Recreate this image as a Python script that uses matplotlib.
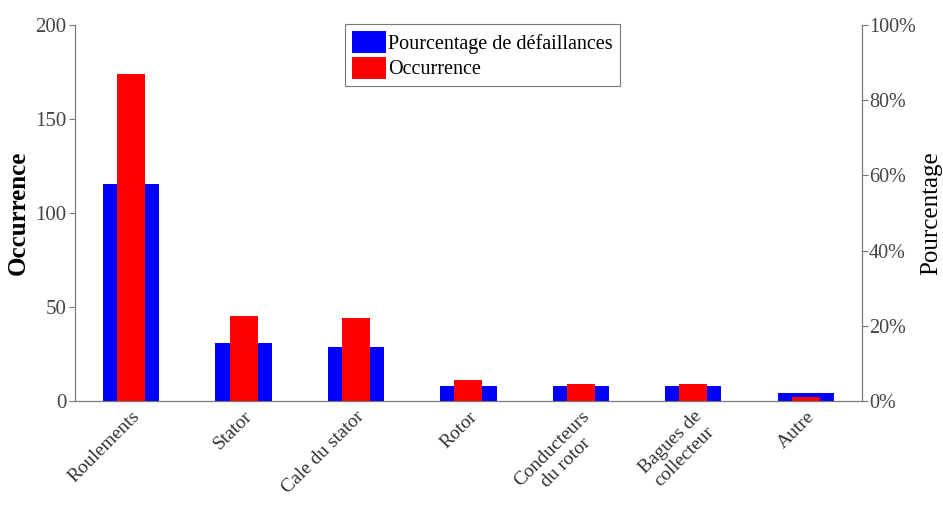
import numpy as np
import matplotlib.pyplot as plt
from matplotlib.ticker import PercentFormatter

# ==========================================================
# DONNÉES
# ==========================================================

categories = ['Roulements', 'Stator', 'Cale du stator', 'Rotor',
              'Conducteurs\ndu rotor', 'Bagues de\ncollecteur', 'Autre']
occurrence = [174, 45, 44, 11, 9, 9, 2]
pourcentage = [57.7, 15.4, 14.4, 4.1, 3.9, 3.9, 2.0]

# ==========================================================
# FIGURE
# ==========================================================

plt.rcParams['font.family'] = ['Liberation Serif', 'DejaVu Serif']

fig = plt.figure(figsize=(9.43, 5.08), dpi=100)
ax = fig.add_axes([0.0795, 0.2106, 0.8345, 0.7404])
ax2 = ax.twinx()

x = np.arange(1, len(categories) + 1)

b1 = ax2.bar(x, pourcentage, 0.5, color='#0000ff', label='Pourcentage de défaillances')
b2 = ax.bar(x, occurrence, 0.25, color='#ff0000', label='Occurrence')

# rouge au-dessus du bleu
ax.set_zorder(ax2.get_zorder() + 1)
ax.patch.set_visible(False)

ax.set_xlim(0.5, 7.5)
ax.set_ylim(0, 200)
ax2.set_ylim(0, 100)
ax.set_yticks([0, 50, 100, 150, 200])
ax2.set_yticks([0, 20, 40, 60, 80, 100])
ax2.yaxis.set_major_formatter(PercentFormatter(decimals=0))

ax.set_xticks(x)
ax.set_xticklabels(categories, rotation=45, ha='right', rotation_mode='anchor',
                   multialignment='center', fontsize=14, color='#333333')
ax.tick_params(axis='x', length=0, pad=5)
ax.tick_params(axis='y', labelsize=15, labelcolor='#444444', color='#777777',
               direction='out', length=4, pad=2)
ax2.tick_params(axis='y', labelsize=14.5, labelcolor='#444444', color='#777777',
                direction='out', length=4, pad=1)

for a in (ax, ax2):
    a.spines['top'].set_visible(False)
    for s in ('left', 'right', 'bottom'):
        a.spines[s].set_color('#777777')

ax.set_ylabel('Occurrence', fontsize=18, fontweight='bold', labelpad=4)
ax2.set_ylabel('Pourcentage', fontsize=18, labelpad=3)

leg = ax.legend([b1, b2], ['Pourcentage de défaillances', 'Occurrence'],
                loc='upper center', bbox_to_anchor=(0.518, 1.003), fontsize=14.5,
                fancybox=False, edgecolor='#777777', handlelength=1.7,
                handleheight=1.3, handletextpad=0.1, borderpad=0.35,
                labelspacing=0.15, borderaxespad=0, framealpha=1)
leg.get_frame().set_linewidth(0.8)

fig.savefig('out.png', dpi=100)
